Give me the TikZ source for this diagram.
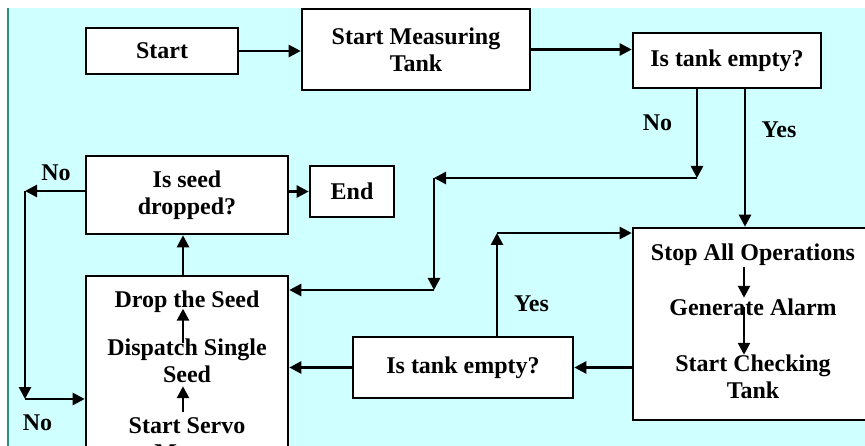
\documentclass[tikz,border=0pt]{standalone}
\usepackage{fontspec}
\setmainfont{Liberation Serif}
\usetikzlibrary{arrows.meta}
\definecolor{bgcyan}{RGB}{208,255,255}
\definecolor{edgeteal}{RGB}{46,139,127}

\begin{document}
\begin{tikzpicture}[x=1pt, y=-1pt, line width=2.6pt, >={Triangle[length=12pt,width=12pt]},
        font=\bfseries\fontsize{24}{27}\selectfont,
        box/.style={draw, fill=white, inner sep=0pt, align=center},
        txt/.style={inner sep=0pt, align=center},
        lbl/.style={inner sep=0pt}]

        % ==========================================
        % 0. SFONDO
        % ==========================================
        \useasboundingbox (0,0) rectangle (865,446);
        \clip (0,0) rectangle (865,446);
        \fill[white] (0,0) rectangle (865,446);
        \fill[bgcyan] (7,8) rectangle (865,446);
        \draw[edgeteal, line width=2pt] (7.5,8) -- (7.5,446);

        % ==========================================
        % 1. RIGA SUPERIORE
        % ==========================================
        \node[box, minimum width=152pt, minimum height=46pt] (start) at (162,51) {Start};
        \node[box, minimum width=228pt, minimum height=81pt] (measure) at (416,49.5) {Start Measuring\\Tank};
        \node[box, minimum width=188pt, minimum height=55pt] (tankA) at (727,60.5) {Is tank empty?};

        \draw[->] (start.east) -- (start.east -| measure.west);
        \draw[->] (measure.east) -- (measure.east -| tankA.west);

        % ==========================================
        % 2. RAMO "No" VERSO IL DOSATORE
        % ==========================================
        \coordinate (nodrop) at (697,178);
        \coordinate (nojoin) at (434,178);
        \coordinate (nobend) at (434,290);
        \node[lbl] (noA) at (657.5,123) {No};

        \draw[->] (tankA.south -| nodrop) -- (nodrop);
        \draw[->] (nodrop) -- (nojoin);
        \draw[->] (nojoin) -- (nobend);

        % ==========================================
        % 3. BLOCCO DESTRO: ALLARME
        % ==========================================
        \node[box, minimum width=240pt, minimum height=192pt] (stop) at (753,324) {};
        \node[txt] (stopops) at (753,255) {Stop All Operations};
        \node[txt] (alarm) at (753,307.5) {Generate Alarm};
        \node[txt] (checking) at (753,377) {Start Checking\\Tank};
        \node[lbl] (yesA) at (779,129.5) {Yes};

        \draw[->] ([xshift=18pt]tankA.south) -- ([xshift=18pt]tankA.south |- stop.north);
        \draw[->] ([xshift=-9pt]stopops.south) -- ([xshift=-9pt]alarm.north);
        \draw[->] ([xshift=-9pt]alarm.center) -- ([xshift=-9pt,yshift=-1pt]checking.north);

        % secondo controllo del serbatoio
        \node[box, minimum width=220pt, minimum height=61pt] (tankB) at (463,367.5) {Is tank empty?};
        \coordinate (yesturn) at (497,233);
        \node[lbl] (yesB) at (531.5,304) {Yes};

        \draw[->] (tankB.east -| stop.west) -- (tankB.east);
        \draw[->] (tankB.north -| yesturn) -- (yesturn);
        \draw[->] (yesturn) -- (yesturn -| stop.west);

        % ==========================================
        % 4. BLOCCO SINISTRO: SEMINA
        % ==========================================
        \node[box, minimum width=202pt, minimum height=230pt] (seedbox) at (187,391) {};
        \node[txt] (dropseed) at (187,301.5) {Drop the Seed};
        \node[txt] (dispatch) at (187,361) {Dispatch Single\\Seed};
        \node[txt] (servo) at (187,439) {Start Servo\\Motor};

        \draw[->] ([xshift=-4pt,yshift=-5pt]dispatch.north) -- ([xshift=-4pt,yshift=5pt]dropseed.south);
        \draw[->] ([xshift=-4pt,yshift=4pt]servo.north) -- ([xshift=-4pt,yshift=-2pt]dispatch.south);

        \draw[->] (nobend) -- (nobend -| seedbox.east);
        \draw[->] (tankB.west) -- (tankB.west -| seedbox.east);

        % ==========================================
        % 5. CONTROLLO SEME E FINE
        % ==========================================
        \node[box, minimum width=202pt, minimum height=78pt] (seedq) at (187,195) {Is seed\\dropped?};
        \node[box, minimum width=84pt, minimum height=51pt] (finish) at (352,191.5) {End};
        \coordinate (leftturn) at (25,191);
        \coordinate (leftdown) at (25,399);
        \node[lbl] (noB) at (56,173) {No};
        \node[lbl] (noC) at (37.5,422.5) {No};

        \draw[->] ([xshift=-4pt]seedbox.north) -- ([xshift=-4pt]seedq.south);
        \draw[->] (finish.west -| seedq.east) -- (finish.west);

        % ritorno "No" a sinistra
        \draw[->] (leftturn -| seedq.west) -- (leftturn);
        \draw[->] (leftturn) -- (leftdown);
        \draw[->] (leftdown) -- (leftdown -| seedbox.west);

    \end{tikzpicture}
\end{document}
